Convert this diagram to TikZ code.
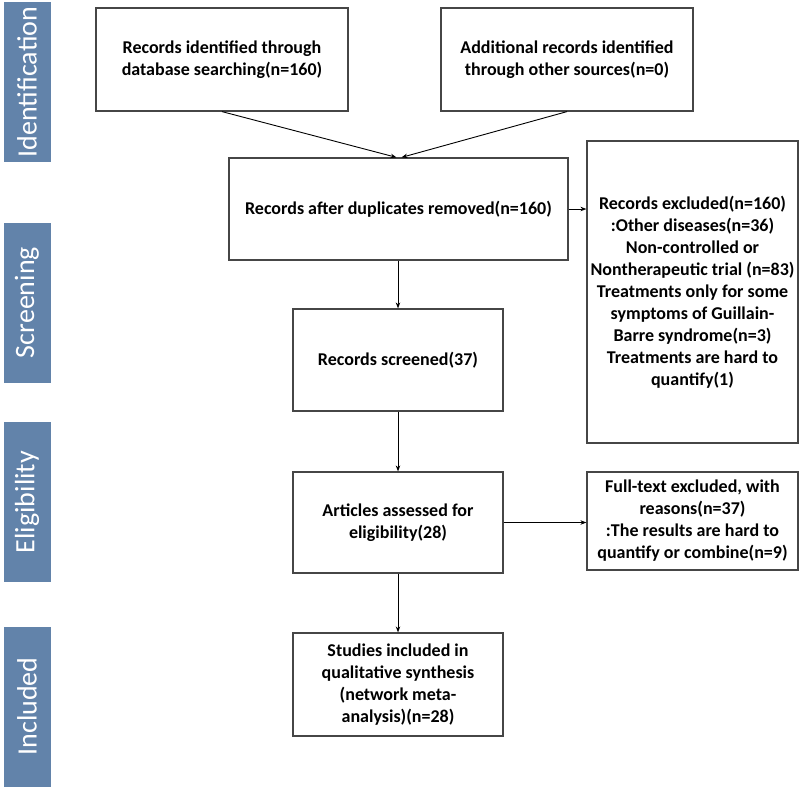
\documentclass[tikz,border=0pt]{standalone}
\usepackage{fontspec}
\setmainfont{Carlito}
\usetikzlibrary{arrows.meta}
\definecolor{sidebar}{RGB}{98,131,170}
\definecolor{boxline}{RGB}{70,70,70}
\begin{document}
\begin{tikzpicture}[x=1pt,y=1pt,
  box/.style={draw=boxline,line width=1.2pt,fill=white,inner sep=0pt,align=center,
    font=\fontsize{18}{22}\selectfont\bfseries},
  side/.style={fill=sidebar,text=white,inner sep=0pt,rotate=90,
    minimum width=160,minimum height=47,font=\fontsize{28}{30}\selectfont},
  arr/.style={-{Stealth[length=6pt,width=4.5pt]},line width=0.9pt,black}]
\useasboundingbox (0,0) rectangle (800,-788);
% side bars
\node[side] (s1) at (27,-82) {Identification};
\node[side] (s2) at (27,-302.5) {Screening};
\node[side] (s3) at (27,-502) {Eligibility};
\node[side] (s4) at (27,-706.5) {Included};
% boxes
\node[box,minimum width=252,minimum height=103] (b1) at (222,-59.5)
  {Records identified through\\database searching(n=160)};
\node[box,minimum width=252,minimum height=103] (b2) at (567,-59.5)
  {Additional records identified\\through other sources(n=0)};
\node[box,minimum width=339,minimum height=102] (b3) at (398.5,-209)
  {Records after duplicates removed(n=160)};
\node[box,minimum width=211,minimum height=302] (b4) at (692.5,-292)
  {Records excluded(n=160)\\:Other diseases(n=36)\\Non-controlled or\\Nontherapeutic trial (n=83)\\Treatments only for some\\symptoms of Guillain-\\Barre syndrome(n=3)\\Treatments are hard to\\quantify(1)};
\node[box,minimum width=210,minimum height=102] (b5) at (398,-360)
  {Records screened(37)};
\node[box,minimum width=210,minimum height=101] (b6) at (398,-522.5)
  {Articles assessed for\\eligibility(28)};
\node[box,minimum width=211,minimum height=98] (b7) at (692.5,-521)
  {Full-text excluded, with\\reasons(n=37)\\:The results are hard to\\quantify or combine(n=9)};
\node[box,minimum width=210,minimum height=103] (b8) at (398,-684.5)
  {Studies included in\\qualitative synthesis\\(network meta-\\analysis)(n=28)};
% connectors
\draw[arr] (b1.south) -- ([xshift=-2]b3.north);
\draw[arr] (b2.south) -- ([xshift=3]b3.north);
\draw[arr] (b3.east) -- (b3.east -| b4.west);
\draw[arr] (b3.south -| b5.north) -- (b5.north);
\draw[arr] (b5.south) -- (b6.north);
\draw[arr] (b6.east) -- (b6.east -| b7.west);
\draw[arr] (b6.south) -- (b8.north);
\end{tikzpicture}
\end{document}
